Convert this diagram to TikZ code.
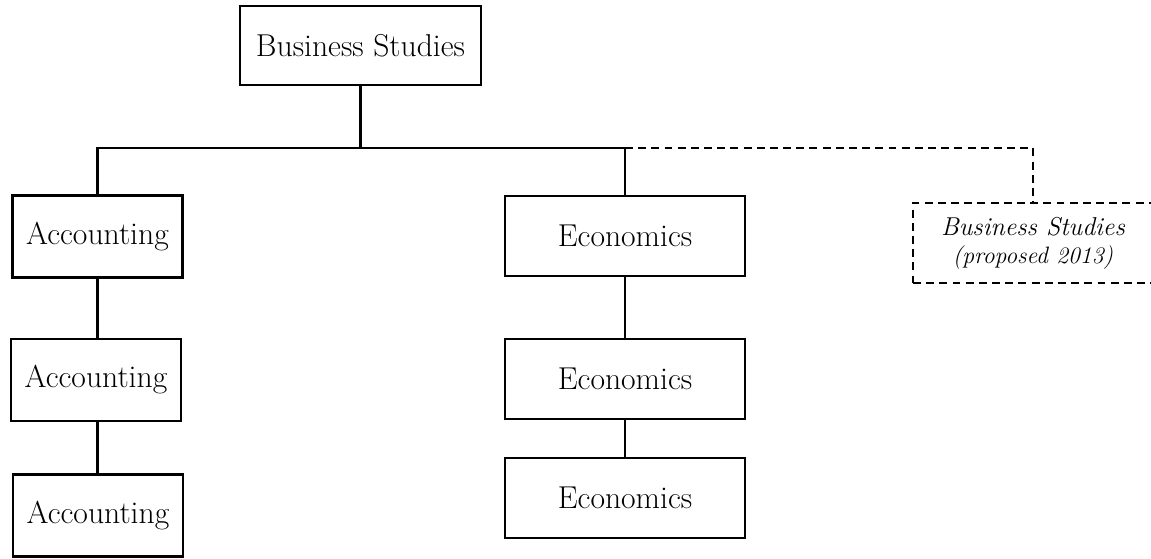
\documentclass[tikz,border=0pt]{standalone}
\usepackage{tikz}

\tikzset{
    box/.style={draw, line width=1.2pt, inner sep=0pt, outer sep=0pt, align=center, font=\fontsize{18}{21}\selectfont},
    accbox/.style={box, minimum width=3.4cm, minimum height=1.64cm},
    ecobox/.style={box, minimum width=4.8cm, minimum height=1.6cm},
    plan/.style={dash pattern=on 4.5pt off 3pt}
}

\begin{document}
\begin{tikzpicture}[x=0.02cm, y=-0.02cm, line width=1.2pt]
            \useasboundingbox (0,0) rectangle (1151,558);
            % top of the tree
            \node [box, minimum width=4.82cm, minimum height=1.58cm] (bs) at (360.5,45.5) {Business Studies};
            \coordinate (bar) at (0,148);
            % left column
            \node [accbox] (acc1) at (97.5,236.5) {Accounting};
            \node [accbox] (acc2) at (96,380) {Accounting};
            \node [accbox] (acc3) at (98,515.5) {Accounting};
            % middle column
            \node [ecobox] (eco1) at (625,236) {Economics};
            \node [ecobox] (eco2) at (625,379) {Economics};
            \node [ecobox] (eco3) at (625,498) {Economics};
            % proposed
            \node [box, plan, minimum width=4.8cm, minimum height=1.6cm, font=\fontsize{14.7}{17}\selectfont\itshape] (prop) at (1033,243) {Business Studies\\[-1pt]{\fontsize{13.5}{15}\selectfont (proposed 2013)}};
            \draw (bs.south) -- (bs.south |- bar);
            \draw (acc1.north) -- (acc1.north |- bar) -- (eco1.north |- bar) -- (eco1.north);
            \draw [plan] (eco1.north |- bar) -| (prop.north);
            \draw (acc1.south) -- (acc1.south |- acc2.north);
            \draw (acc1.south |- acc2.south) -- (acc1.south |- acc3.north);
            \draw (eco1) -- (eco2);
            \draw (eco2) -- (eco3);
        \end{tikzpicture}
\end{document}
